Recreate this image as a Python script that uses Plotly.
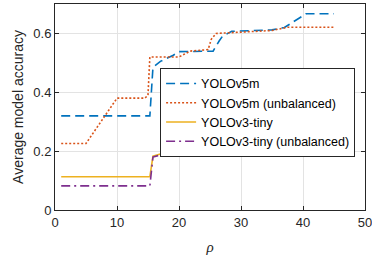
import plotly.graph_objects as go

# Data (breakpoints of each curve)
rho_v5m = [1, 15.3, 15.8, 17, 18, 19, 20, 25.5, 26.5, 27, 28.5, 35, 37, 40.5, 45]
acc_v5m = [0.32, 0.32, 0.485, 0.505, 0.515, 0.525, 0.538, 0.54, 0.575, 0.59, 0.607, 0.612, 0.62, 0.667, 0.667]

rho_v5m_unb = [1, 5, 10, 14.5, 15, 15.3, 20, 21.8, 24.7, 25.2, 26, 35, 37.5, 45]
acc_v5m_unb = [0.226, 0.226, 0.38, 0.38, 0.39, 0.52, 0.52, 0.54, 0.545, 0.58, 0.6, 0.61, 0.621, 0.621]

rho_v3t = [1, 15.3, 15.8, 17, 20, 26, 26.5, 35, 45]
acc_v3t = [0.113, 0.113, 0.183, 0.19, 0.201, 0.202, 0.211, 0.215, 0.22]

rho_v3t_unb = [1, 15.3, 15.8, 17, 20, 26, 26.5, 35, 45]
acc_v3t_unb = [0.082, 0.082, 0.18, 0.187, 0.197, 0.198, 0.214, 0.216, 0.22]

series_names = ["YOLOv5m", "YOLOv5m (unbalanced)", "YOLOv3-tiny", "YOLOv3-tiny (unbalanced)"]
x_ticks = [0, 10, 20, 30, 40, 50]
y_ticks = [0, 0.2, 0.4, 0.6]
y_tick_labels = ["0", "0.2", "0.4", "0.6"]

colors = ["#0072BD", "#D95319", "#EDB120", "#7E2F8E"]
dashes = ["9px,5px", "2px,2px", "solid", "9px,4px,2px,4px"]

fig = go.Figure()
for xs, ys, name, c, d in zip(
    [rho_v5m, rho_v5m_unb, rho_v3t, rho_v3t_unb],
    [acc_v5m, acc_v5m_unb, acc_v3t, acc_v3t_unb],
    series_names, colors, dashes):
    fig.add_trace(go.Scatter(x=xs, y=ys, mode="lines", name=name,
                             line=dict(color=c, width=1.6, dash=d)))

axis_common = dict(
    showgrid=True, gridcolor="#e3e3e3", gridwidth=1,
    showline=True, linecolor="#262626", linewidth=1, mirror="ticks",
    ticks="inside", ticklen=4, tickcolor="#262626",
    zeroline=False, automargin=False, ticklabeloverflow="allow",
    tickfont=dict(family="Liberation Sans, Arial, sans-serif", size=13, color="#262626"),
)

fig.update_xaxes(range=[0, 50], tickvals=x_ticks,
                 title=dict(text="<i>ρ</i>", standoff=12,
                            font=dict(family="Liberation Serif, serif", size=15, color="#262626")),
                 **axis_common)
fig.update_yaxes(range=[0, 0.7], tickvals=y_ticks, ticktext=y_tick_labels,
                 title=dict(text="Average model accuracy", standoff=6,
                            font=dict(family="Liberation Sans, Arial, sans-serif", size=14, color="#262626")),
                 **axis_common)

fig.update_layout(
    width=372, height=265,
    margin=dict(l=55, r=7, t=4, b=55),
    paper_bgcolor="white", plot_bgcolor="white",
    legend=dict(x=0.339, y=0.69, xanchor="left", yanchor="top",
                bgcolor="white", bordercolor="#262626", borderwidth=1,
                font=dict(family="Liberation Sans, Arial, sans-serif", size=12.5, color="#000000"),
                tracegroupgap=0, itemwidth=30),
    showlegend=True,
)

fig.write_html("out.html", config={"displayModeBar": False},
               post_script="document.body.style.margin='0';document.body.style.overflow='hidden';")
